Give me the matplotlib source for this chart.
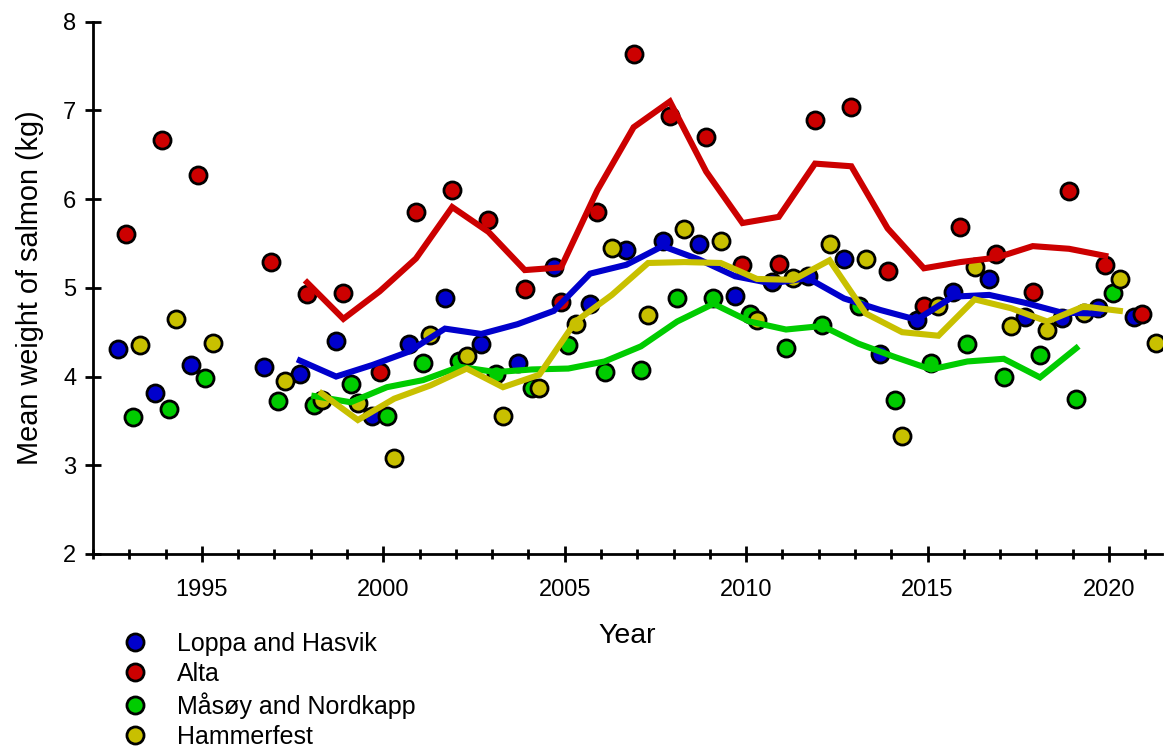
import matplotlib
matplotlib.use('Agg')
import matplotlib.pyplot as plt
import numpy as np
from matplotlib.ticker import MultipleLocator

plt.rcParams['font.family'] = ['Liberation Sans', 'DejaVu Sans']

series = ['Loppa and Hasvik', 'Alta', 'Måsøy and Nordkapp', 'Hammerfest']
colors = ['#0000cc', '#cc0000', '#00cc00', '#c8c000']
offsets = [-0.3, -0.1, 0.1, 0.3]

years_pts = [1993, 1994, 1995, 1997, 1998, 1999, 2000, 2001, 2002, 2003, 2004,
             2005, 2006, 2007, 2008, 2009, 2010, 2011, 2012, 2013, 2014, 2015,
             2016, 2017, 2018, 2019, 2020, 2021]

loppa_pts = [4.31, 3.82, 4.13, 4.11, 4.03, 4.40, 3.56, 4.37, 4.89, 4.37, 4.15,
             5.23, 4.82, 5.43, 5.53, 5.49, 4.91, 5.07, 5.13, 5.32, 4.25, 4.64,
             4.95, 5.10, 4.67, 4.66, 4.77, 4.67]
alta_pts = [5.61, 6.67, 6.27, 5.29, 4.93, 4.94, 4.05, 5.85, 6.10, 5.77, 4.99,
            4.84, 5.86, 7.64, 6.94, 6.70, 5.26, 5.27, 6.89, 7.04, 5.19, 4.80,
            5.69, 5.38, 4.95, 6.09, 5.26, 4.71]
masoy_pts = [3.54, 3.63, 3.98, 3.72, 3.68, 3.92, 3.55, 4.15, 4.17, 4.03, 3.87,
             4.35, 4.05, 4.07, 4.89, 4.89, 4.71, 4.32, 4.58, 4.79, 3.73, 4.15,
             4.37, 4.00, 4.24, 3.75, 4.94]
hammer_pts = [4.35, 4.65, 4.38, 3.95, 3.74, 3.70, 3.08, 4.47, 4.23, 3.56, 3.87,
              4.59, 5.45, 4.69, 5.66, 5.53, 4.64, 5.11, 5.49, 5.32, 3.33, 4.79,
              5.23, 4.57, 4.52, 4.72, 5.10, 4.38]

# running means
years_line = list(range(1998, 2021))
loppa_line = [4.18, 4.00, 4.13, 4.28, 4.54, 4.48, 4.59, 4.74, 5.16, 5.26, 5.47,
              5.32, 5.13, 5.05, 5.11, 4.88, 4.75, 4.64, 4.90, 4.92, 4.83, 4.72, 4.71]
alta_line = [5.06, 4.65, 4.96, 5.33, 5.91, 5.63, 5.20, 5.23, 6.10, 6.81, 7.10,
             6.31, 5.73, 5.80, 6.40, 6.37, 5.67, 5.22, 5.29, 5.34, 5.47, 5.44, 5.36]
masoy_line = [3.78, 3.71, 3.88, 3.96, 4.11, 4.05, 4.08, 4.09, 4.17, 4.34, 4.62,
              4.82, 4.62, 4.53, 4.57, 4.37, 4.22, 4.08, 4.17, 4.20, 3.99, 4.32]
hammer_line = [3.81, 3.51, 3.75, 3.90, 4.09, 3.88, 4.02, 4.62, 4.92, 5.28, 5.29,
               5.28, 5.10, 5.09, 5.31, 4.71, 4.50, 4.46, 4.87, 4.77, 4.62, 4.79, 4.74]

pts = [loppa_pts, alta_pts, masoy_pts, hammer_pts]
lines = [loppa_line, alta_line, masoy_line, hammer_line]

fig = plt.figure(figsize=(11.64, 7.47), dpi=100)
ax = fig.add_axes([0.0799, 0.2584, 0.918, 0.7126])

handles = []
for i in range(4):
    y = pts[i]
    x = np.array(years_pts[:len(y)]) + offsets[i]
    h, = ax.plot(x, y, 'o', ls='none', ms=12.3, mfc=colors[i], mec='black',
                 mew=2, label=series[i], zorder=2)
    handles.append(h)

for i in range(4):
    y = lines[i]
    x = np.array(years_line[:len(y)]) + offsets[i]
    ax.plot(x, y, '-', color=colors[i], lw=4.4, zorder=3,
            solid_joinstyle='miter')

ax.set_xlim(1992, 2021.45)
ax.set_ylim(2, 8)
ax.xaxis.set_major_locator(MultipleLocator(5))
ax.xaxis.set_minor_locator(MultipleLocator(1))
ax.yaxis.set_major_locator(MultipleLocator(1))

for s in ['top', 'right']:
    ax.spines[s].set_visible(False)
for s in ['left', 'bottom']:
    ax.spines[s].set_linewidth(2)

ax.tick_params(axis='both', which='major', direction='inout', length=12,
               width=2, labelsize=17)
ax.tick_params(axis='x', which='minor', direction='inout', length=7.5, width=2)
ax.tick_params(axis='x', which='major', pad=12)
ax.tick_params(axis='y', which='major', pad=6)

ax.set_xlabel('Year', fontsize=20.5, labelpad=16)
ax.set_ylabel('Mean weight of salmon (kg)', fontsize=20.8, labelpad=14)

fig.legend(handles=handles, loc='upper left', bbox_to_anchor=(0.105, 0.154),
           frameon=False, fontsize=18, handlelength=1.0, handletextpad=1.2,
           labelspacing=0.24, borderpad=0, borderaxespad=0)

fig.savefig('out.png', dpi=100)
